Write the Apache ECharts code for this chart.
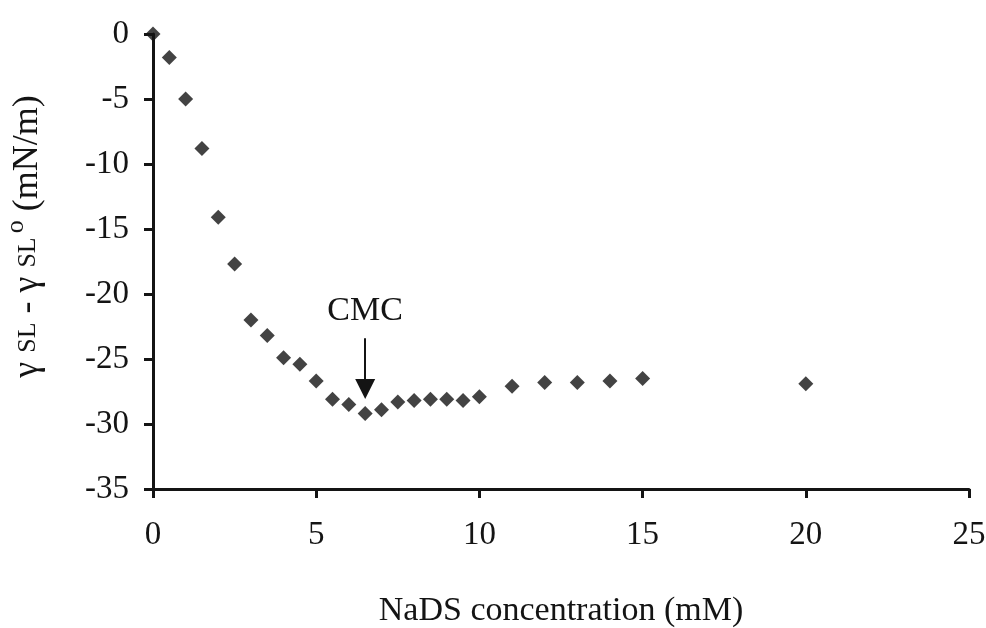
<!DOCTYPE html>
<html>
<head>
<meta charset="utf-8">
<script src="https://cdn.jsdelivr.net/npm/echarts@6/dist/echarts.min.js"></script>
<style>
  html, body { margin: 0; padding: 0; background: #fff; }
  #chart { width: 986px; height: 628px; }
</style>
</head>
<body>
<div id="chart"></div>
<script>
    // NaDS concentration (mM)
    const conc = [0, 0.5, 1, 1.5, 2, 2.5, 3, 3.5, 4, 4.5, 5, 5.5, 6, 6.5, 7, 7.5,
                  8, 8.5, 9, 9.5, 10, 11, 12, 13, 14, 15, 20];
    // gamma_SL - gamma_SL0 (mN/m)
    const dGamma = [0, -1.8, -5.0, -8.8, -14.1, -17.7, -22.0, -23.2, -24.9, -25.4, -26.7,
                    -28.1, -28.5, -29.2, -28.9, -28.3, -28.2, -28.1, -28.1, -28.2, -27.9,
                    -27.1, -26.8, -26.8, -26.7, -26.5, -26.9];
    const xTicks = [0, 5, 10, 15, 20, 25];
    const yTicks = [0, -5, -10, -15, -20, -25, -30, -35];

    // CMC arrow, in data units (end point = centre of the arrow head)
    const cmcX = 6.5;
    const cmcArrow = [-23.4, -27.3];

    const font = '"Liberation Serif", "Times New Roman", serif';
    const ink = '#141414';

    let chart = echarts.init(document.getElementById('chart'));

    let option = {
        backgroundColor: '#fff',
        animation: false,
        grid: {left: 153, right: 17, top: 34, bottom: 139, outerBoundsMode: 'none', containLabel: false},
        xAxis: {
            type: 'value',
            min: xTicks[0],
            max: xTicks[xTicks.length - 1],
            interval: 5,
            name: 'NaDS concentration (mM)',
            nameLocation: 'middle',
            nameGap: 105,
            nameTextStyle: {fontFamily: font, fontSize: 34, color: ink},
            axisLine: {show: true, onZero: false, lineStyle: {color: ink, width: 3}},
            axisTick: {show: true, length: 9, lineStyle: {color: ink, width: 3}},
            axisLabel: {fontFamily: font, fontSize: 33, color: ink, margin: 30},
            splitLine: {show: false}
        },
        yAxis: {
            type: 'value',
            min: yTicks[yTicks.length - 1],
            max: yTicks[0],
            interval: 5,
            name: '{g|γ }{s|SL}{g| - γ }{s|SL}{sup|o}{g| (mN/m)}',
            nameLocation: 'middle',
            nameGap: 100,
            nameRotate: 90,
            nameTextStyle: {
                fontFamily: font, fontSize: 36, color: ink,
                padding: [0, 0, 0, 50],
                rich: {
                    g: {fontFamily: font, fontSize: 36, color: ink},
                    s: {fontFamily: font, fontSize: 26, color: ink},
                    sup: {fontFamily: font, fontSize: 26, color: ink, padding: [0, 0, 24, 4]}
                }
            },
            axisLine: {show: true, onZero: false, lineStyle: {color: ink, width: 3}},
            axisTick: {show: true, length: 9, lineStyle: {color: ink, width: 3}},
            axisLabel: {fontFamily: font, fontSize: 33, color: ink, margin: 24},
            splitLine: {show: false}
        },
        series: [{
            type: 'scatter',
            symbol: 'diamond',
            symbolSize: 15,
            itemStyle: {color: ink},
            data: conc.map((c, i) => [c, dGamma[i]]),
            z: 5,
            markLine: {
                silent: true,
                symbol: ['none', 'triangle'],
                symbolSize: [20, 20],
                lineStyle: {color: ink, width: 2, type: 'solid'},
                label: {
                    show: true,
                    position: 'start',
                    formatter: 'CMC',
                    fontFamily: font,
                    fontSize: 34,
                    color: ink,
                    distance: 10
                },
                data: [[
                    {coord: [cmcX, cmcArrow[0]]},
                    {coord: [cmcX, cmcArrow[1]]}
                ]]
            }
        }]
    };
    chart.setOption(option);
</script>
</body>
</html>
